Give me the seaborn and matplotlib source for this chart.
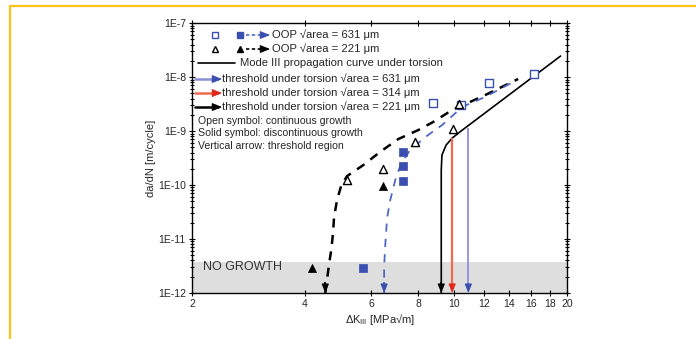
import numpy as np
import matplotlib
matplotlib.use("Agg")
import matplotlib.pyplot as plt
import matplotlib.ticker as mticker
from matplotlib.lines import Line2D
import seaborn as sns

# measured points (dK in MPa*sqrt(m), da/dN in m/cycle)
sq_open_x = [8.8, 10.4, 12.4, 16.3]
sq_open_y = [3.3e-9, 3.0e-9, 7.7e-9, 1.14e-8]
sq_solid_x = [7.3, 7.3, 7.3, 5.7]
sq_solid_y = [4.1e-10, 2.25e-10, 1.2e-10, 2.9e-12]
tri_open_x = [5.18, 6.46, 7.87, 9.93, 10.3]
tri_open_y = [1.24e-10, 2.0e-10, 6.3e-10, 1.09e-9, 3.2e-9]
tri_solid_x = [6.46, 4.18]
tri_solid_y = [9.6e-11, 2.9e-12]

# hand-drawn trend curves
blue_dash_x = [6.50, 6.50, 6.54, 6.62, 6.75, 6.96, 7.22, 7.63, 8.36, 9.28, 10.5, 12.1, 14.5]
blue_dash_y = [1e-12, 3.0e-12, 7.1e-12, 2.45e-11, 5.3e-11, 1.24e-10, 2.55e-10, 4.45e-10,
               7.7e-10, 1.29e-9, 2.8e-9, 4.3e-9, 8.4e-9]
black_dash_x = [4.53, 4.64, 4.70, 4.75, 4.78, 4.87, 5.00, 5.18, 5.72, 6.34, 7.09, 8.01, 8.78,
                9.87, 11.94, 14.8]
black_dash_y = [1e-12, 3.6e-12, 6.3e-12, 1.29e-11, 2.55e-11, 5.3e-11, 1.0e-10, 1.47e-10,
                2.34e-10, 4.1e-10, 7.1e-10, 1.04e-9, 1.47e-9, 2.45e-9, 4.45e-9, 9.2e-9]
mode3_x = [9.23, 9.23, 9.27, 9.51, 9.87, 10.5, 19.2]
mode3_y = [1e-12, 1.9e-10, 3.6e-10, 5.5e-10, 7.4e-10, 1.04e-9, 2.45e-8]

# thresholds (x, top of arrow)
thr_631 = (10.9, 1.15e-9)
thr_314 = (9.87, 7.4e-10)

no_growth_top = 3.75e-12
x_ticks = [2, 4, 6, 8, 10, 12, 14, 16, 18, 20]
y_ticks = [1e-12, 1e-11, 1e-10, 1e-9, 1e-8, 1e-7]

BLUE = "#3a4fb0"
BLUE_L = "#4f68c8"
BLUE_T = "#8a90d8"
RED = "#f06a50"

sns.set_theme(style="ticks")
plt.rcParams['font.family'] = ['Liberation Sans', 'DejaVu Sans']
plt.rcParams['mathtext.fontset'] = 'custom'
plt.rcParams['mathtext.rm'] = 'Liberation Sans'

fig = plt.figure(figsize=(6.96, 3.39), dpi=100)
fig.patch.set_facecolor("white")
ax = fig.add_axes([0.276, 0.1357, 0.539, 0.7963])
ax.set_facecolor("white")
ax.set_xscale("log")
ax.set_yscale("log")
ax.set_xlim(2, 20)
ax.set_ylim(1e-12, 1e-7)

ax.axhspan(1e-12, no_growth_top, color="#dedede", lw=0, zorder=0)
ax.text(2.14, 3.0e-12, "NO GROWTH", fontsize=9, color="#333333", va="center", ha="left")

# curves
sns.lineplot(x=black_dash_x, y=black_dash_y, sort=False, estimator=None, ax=ax,
             color="black", lw=1.8, linestyle=(0, (3.6, 3.0)))
sns.lineplot(x=blue_dash_x, y=blue_dash_y, sort=False, estimator=None, ax=ax,
             color=BLUE_L, lw=1.3, linestyle=(0, (4.5, 4.0)))
sns.lineplot(x=mode3_x, y=mode3_y, sort=False, estimator=None, ax=ax,
             color="black", lw=1.2)

# threshold arrows
def down_arrow(x, ytop, line_color, head_color, lw=1.3):
    ax.plot([x, x], [ytop, 1.25e-12], color=line_color, lw=lw, solid_capstyle="butt")
    ax.annotate("", xy=(x, 1e-12), xytext=(x, 1.5e-12),
                arrowprops=dict(arrowstyle="-|>,head_length=0.45,head_width=0.18",
                                color=head_color, lw=0.8, shrinkA=0, shrinkB=0))

down_arrow(thr_631[0], thr_631[1], BLUE_T, BLUE)
down_arrow(thr_314[0], thr_314[1], RED, "#e02818", lw=1.6)
down_arrow(mode3_x[0], 1.6e-12, "black", "black")
down_arrow(blue_dash_x[0], 1.6e-12, BLUE_L, BLUE)
down_arrow(black_dash_x[0], 1.6e-12, "black", "black")

# markers
sns.scatterplot(x=sq_open_x, y=sq_open_y, marker="s", s=26, facecolor="white",
                edgecolor=BLUE, linewidth=1.0, ax=ax, zorder=5)
sns.scatterplot(x=sq_solid_x, y=sq_solid_y, marker="s", s=26, color=BLUE,
                edgecolor=BLUE, linewidth=0.5, ax=ax, zorder=5)
sns.scatterplot(x=tri_open_x, y=tri_open_y, marker="^", s=34, facecolor="white",
                edgecolor="black", linewidth=1.0, ax=ax, zorder=5)
sns.scatterplot(x=tri_solid_x, y=tri_solid_y, marker="^", s=34, color="black",
                edgecolor="black", linewidth=0.5, ax=ax, zorder=5)

# legend drawn by hand
FS = 8.1
T = ax.transAxes

def leg_arrow(x0, x1, y, color, ls="-", lw=1.8, head=None):
    ax.add_line(Line2D([x0, x1 - 0.012], [y, y], transform=T, color=color, lw=lw, ls=ls))
    ax.annotate("", xy=(x1, y), xytext=(x1 - 0.02, y), xycoords=T, textcoords=T,
                arrowprops=dict(arrowstyle="-|>,head_length=0.5,head_width=0.2",
                                color=head or color, lw=0.8, shrinkA=0, shrinkB=0))

ry = [0.9556, 0.9037, 0.8519, 0.7926, 0.7407, 0.6889]
ax.plot([0.0613], [ry[0]], "s", ms=4.5, mfc="white", mec=BLUE, mew=1, transform=T)
ax.plot([0.128], [ry[0]], "s", ms=4.5, color=BLUE, transform=T)
leg_arrow(0.144, 0.208, ry[0], BLUE_L, ls=(0, (2, 1.5)), lw=1.2, head=BLUE)
ax.text(0.2133, ry[0], "OOP √area = 631 μm", transform=T, fontsize=FS, va="center")
ax.plot([0.0613], [ry[1]], "^", ms=5, mfc="white", mec="black", mew=1, transform=T)
ax.plot([0.128], [ry[1]], "^", ms=5, color="black", transform=T)
leg_arrow(0.144, 0.208, ry[1], "black", ls=(0, (2, 1.5)), lw=1.2)
ax.text(0.2133, ry[1], "OOP √area = 221 μm", transform=T, fontsize=FS, va="center")
ax.add_line(Line2D([0.016, 0.1147], [ry[2], ry[2]], transform=T, color="black", lw=1.2))
ax.text(0.128, ry[2], "Mode III propagation curve under torsion", transform=T, fontsize=FS, va="center")
for yy, col, head, lab in [(ry[3], BLUE_T, BLUE, "631"), (ry[4], RED, "#e02818", "314"),
                           (ry[5], "black", "black", "221")]:
    leg_arrow(0.008, 0.08, yy, col, head=head)
    ax.text(0.08, yy, f"threshold under torsion √area = {lab} μm", transform=T,
            fontsize=FS, va="center")
for yy, lab in [(0.637, "Open symbol: continuous growth"),
                (0.5926, "Solid symbol: discontinuous growth"),
                (0.5444, "Vertical arrow: threshold region")]:
    ax.text(0.016, yy, lab, transform=T, fontsize=7.6, va="center")

# axes formatting
ax.xaxis.set_major_locator(mticker.FixedLocator(x_ticks))
ax.xaxis.set_minor_locator(mticker.NullLocator())
ax.xaxis.set_major_formatter(mticker.FuncFormatter(lambda v, p: f"{v:g}"))
ax.yaxis.set_major_locator(mticker.FixedLocator(y_ticks))
ax.yaxis.set_minor_locator(mticker.LogLocator(base=10, subs=np.arange(2, 10)))
ax.yaxis.set_major_formatter(mticker.FuncFormatter(lambda v, p: f"1E{int(round(np.log10(v)))}"))
ax.yaxis.set_minor_formatter(mticker.NullFormatter())
ax.tick_params(which="both", direction="inout", top=True, right=True, labelsize=7.5,
               width=0.8, color="black", pad=2)
ax.tick_params(which="major", length=5)
ax.tick_params(which="minor", length=3)
for s in ax.spines.values():
    s.set_linewidth(1.0)
    s.set_color("black")
ax.set_xlabel("ΔK$_{\\rm III}$ [MPa√m]", fontsize=8, labelpad=2)
ax.set_ylabel("da/dN [m/cycle]", fontsize=8, labelpad=1)

# orange page frame
fig.add_artist(Line2D([0.0144, 0.0144], [0, 0.982], transform=fig.transFigure,
                      color="#ffc21a", lw=1.6))
fig.add_artist(Line2D([0.0144, 1.0], [0.982, 0.982], transform=fig.transFigure,
                      color="#ffc21a", lw=1.6))

fig.savefig("out.png", dpi=100, facecolor="white")
